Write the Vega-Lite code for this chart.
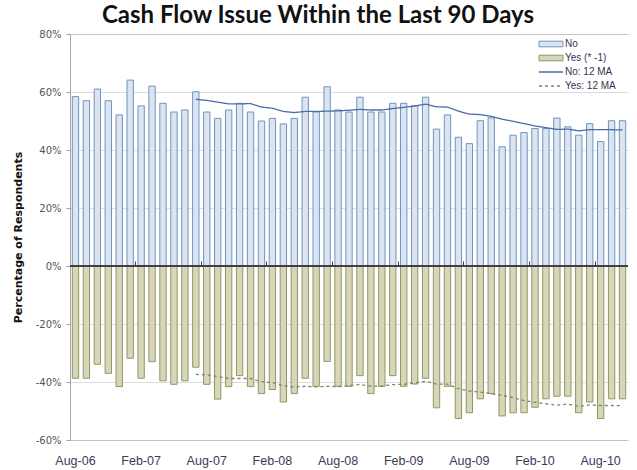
{
  "$schema": "https://vega.github.io/schema/vega-lite/v6.json",
  "width": 558,
  "height": 406,
  "autosize": {"type": "none"},
  "padding": {"left": 70, "top": 34, "right": 9, "bottom": 30},
  "background": "white",
  "config": {"view": {"stroke": null}},
  "title": {"text": "Cash Flow Issue Within the Last 90 Days", "font": "Lato", "fontSize": 24, "fontWeight": "bold", "color": "#111111", "anchor": "middle", "dx": -31, "dy": 27, "offset": 9, "baseline": "alphabetic"},
  "data": {"values": [
    {"m": "Aug-06", "no": 58.4, "yes": -38.7, "noma": null, "yesma": null},
    {"m": "Sep-06", "no": 57.0, "yes": -38.7, "noma": null, "yesma": null},
    {"m": "Oct-06", "no": 61.0, "yes": -33.9, "noma": null, "yesma": null},
    {"m": "Nov-06", "no": 57.0, "yes": -37.0, "noma": null, "yesma": null},
    {"m": "Dec-06", "no": 52.1, "yes": -41.6, "noma": null, "yesma": null},
    {"m": "Jan-07", "no": 64.1, "yes": -31.8, "noma": null, "yesma": null},
    {"m": "Feb-07", "no": 55.2, "yes": -38.7, "noma": null, "yesma": null},
    {"m": "Mar-07", "no": 62.0, "yes": -33.0, "noma": null, "yesma": null},
    {"m": "Apr-07", "no": 56.1, "yes": -39.6, "noma": null, "yesma": null},
    {"m": "May-07", "no": 53.1, "yes": -40.8, "noma": null, "yesma": null},
    {"m": "Jun-07", "no": 53.8, "yes": -39.6, "noma": null, "yesma": null},
    {"m": "Jul-07", "no": 60.1, "yes": -34.9, "noma": 57.5, "yesma": -37.4},
    {"m": "Aug-07", "no": 53.1, "yes": -40.8, "noma": 57.1, "yesma": -37.5},
    {"m": "Sep-07", "no": 50.9, "yes": -45.9, "noma": 56.5, "yesma": -38.1},
    {"m": "Oct-07", "no": 53.8, "yes": -41.6, "noma": 55.9, "yesma": -38.8},
    {"m": "Nov-07", "no": 56.1, "yes": -37.8, "noma": 55.9, "yesma": -38.8},
    {"m": "Dec-07", "no": 53.1, "yes": -41.6, "noma": 56.0, "yesma": -38.8},
    {"m": "Jan-08", "no": 50.0, "yes": -44.0, "noma": 54.8, "yesma": -39.9},
    {"m": "Feb-08", "no": 50.9, "yes": -42.6, "noma": 54.4, "yesma": -40.2},
    {"m": "Mar-08", "no": 49.0, "yes": -46.9, "noma": 53.3, "yesma": -41.3},
    {"m": "Apr-08", "no": 50.9, "yes": -44.0, "noma": 52.9, "yesma": -41.7},
    {"m": "May-08", "no": 58.2, "yes": -38.7, "noma": 53.3, "yesma": -41.5},
    {"m": "Jun-08", "no": 53.1, "yes": -41.5, "noma": 53.3, "yesma": -41.7},
    {"m": "Jul-08", "no": 61.8, "yes": -32.9, "noma": 53.4, "yesma": -41.5},
    {"m": "Aug-08", "no": 53.8, "yes": -41.5, "noma": 53.5, "yesma": -41.6},
    {"m": "Sep-08", "no": 53.1, "yes": -41.5, "noma": 53.7, "yesma": -41.2},
    {"m": "Oct-08", "no": 58.2, "yes": -37.8, "noma": 54.0, "yesma": -40.9},
    {"m": "Nov-08", "no": 53.1, "yes": -44.0, "noma": 53.8, "yesma": -41.4},
    {"m": "Dec-08", "no": 53.1, "yes": -41.5, "noma": 53.8, "yesma": -41.4},
    {"m": "Jan-09", "no": 56.1, "yes": -37.8, "noma": 54.3, "yesma": -40.9},
    {"m": "Feb-09", "no": 56.1, "yes": -41.5, "noma": 54.7, "yesma": -40.8},
    {"m": "Mar-09", "no": 55.2, "yes": -40.7, "noma": 55.2, "yesma": -40.3},
    {"m": "Apr-09", "no": 58.2, "yes": -38.7, "noma": 55.8, "yesma": -39.8},
    {"m": "May-09", "no": 47.2, "yes": -48.9, "noma": 54.9, "yesma": -40.7},
    {"m": "Jun-09", "no": 52.1, "yes": -41.5, "noma": 54.8, "yesma": -40.7},
    {"m": "Jul-09", "no": 44.4, "yes": -52.6, "noma": 53.4, "yesma": -42.3},
    {"m": "Aug-09", "no": 42.2, "yes": -50.6, "noma": 52.4, "yesma": -43.1},
    {"m": "Sep-09", "no": 50.1, "yes": -45.8, "noma": 52.2, "yesma": -43.5},
    {"m": "Oct-09", "no": 51.1, "yes": -44.0, "noma": 51.6, "yesma": -44.0},
    {"m": "Nov-09", "no": 41.1, "yes": -51.7, "noma": 50.6, "yesma": -44.6},
    {"m": "Dec-09", "no": 45.1, "yes": -50.6, "noma": 49.9, "yesma": -45.4},
    {"m": "Jan-10", "no": 46.0, "yes": -50.6, "noma": 49.1, "yesma": -46.4},
    {"m": "Feb-10", "no": 47.4, "yes": -48.7, "noma": 48.3, "yesma": -47.0},
    {"m": "Mar-10", "no": 47.4, "yes": -45.8, "noma": 47.7, "yesma": -47.5},
    {"m": "Apr-10", "no": 51.0, "yes": -44.9, "noma": 47.1, "yesma": -48.0},
    {"m": "May-10", "no": 48.0, "yes": -44.9, "noma": 47.2, "yesma": -47.6},
    {"m": "Jun-10", "no": 45.1, "yes": -50.6, "noma": 46.6, "yesma": -48.4},
    {"m": "Jul-10", "no": 49.1, "yes": -46.9, "noma": 47.0, "yesma": -47.9},
    {"m": "Aug-10", "no": 42.9, "yes": -52.6, "noma": 47.0, "yesma": -48.1},
    {"m": "Sep-10", "no": 50.1, "yes": -45.8, "noma": 47.0, "yesma": -48.1},
    {"m": "Oct-10", "no": 50.1, "yes": -45.8, "noma": 46.9, "yesma": -48.2}
  ]},
  "resolve": {"axis": {"x": "independent"}},
  "layer": [
    {
      "transform": [{"fold": ["no", "yes"], "as": ["s", "v"]}],
      "mark": {"type": "bar", "width": {"band": 0.58}, "strokeWidth": 1},
      "encoding": {
        "x": {"field": "m", "type": "ordinal", "sort": null,
          "scale": {"paddingInner": 0, "paddingOuter": 0},
          "axis": {"orient": "bottom", "values": ["Aug-06", "Feb-07", "Aug-07", "Feb-08", "Aug-08", "Feb-09", "Aug-09", "Feb-10", "Aug-10"],
            "ticks": false, "domain": false, "grid": false, "title": null, "labelAngle": 0,
            "labelFont": "Liberation Sans", "labelFontSize": 12.5, "labelColor": "#3b3b55", "labelPadding": 14}},
        "y": {"field": "v", "type": "quantitative",
          "scale": {"domain": [-60, 80], "nice": false},
          "axis": {"values": [-60, -40, -20, 0, 20, 40, 60, 80], "labelExpr": "datum.value + '%'",
            "title": "Percentage of Respondents", "titleFont": "DejaVu Sans", "titleFontSize": 11, "titleFontWeight": "bold", "titleColor": "#111111", "titlePadding": 12,
            "labelFont": "DejaVu Sans", "labelFontSize": 10, "labelColor": "#555555", "labelPadding": 5,
            "tickSize": 4, "tickColor": "#a0a0a0", "domainColor": "#a6a6a6",
            "grid": true, "gridColor": {"condition": {"test": "datum.value == -60 || datum.value == 80", "value": "#c4c4c4"}, "value": "#dcdcdc"}, "gridWidth": 1}},
        "fill": {"field": "s", "type": "nominal",
          "scale": {"domain": ["no", "yes"], "range": ["#dbe5f2", "#d9d5bb"]},
          "legend": {"orient": "none", "legendX": 476, "legendY": 5, "title": null, "padding": 0,
            "symbolType": "M-3,-0.7H3V0.7H-3Z", "symbolSize": 64, "symbolStrokeWidth": 1,
            "labelFont": "Liberation Sans", "labelFontSize": 10, "labelColor": "#3a3350", "labelOffset": 9, "rowPadding": 4,
            "labelExpr": "datum.label == 'no' ? 'No' : 'Yes (* -1)'"}},
        "stroke": {"field": "s", "type": "nominal",
          "scale": {"domain": ["no", "yes"], "range": ["#7192c0", "#8d985f"]},
          "legend": {"orient": "none", "legendX": 476, "legendY": 5, "title": null, "padding": 0,
            "symbolType": "M-3,-0.7H3V0.7H-3Z", "symbolSize": 64, "symbolStrokeWidth": 1,
            "labelFont": "Liberation Sans", "labelFontSize": 10, "labelColor": "#3a3350", "labelOffset": 9, "rowPadding": 4,
            "labelExpr": "datum.label == 'no' ? 'No' : 'Yes (* -1)'"}}
      }
    },
    {
      "mark": {"type": "rule", "color": "#404040", "strokeWidth": 2},
      "encoding": {"y": {"datum": 0}}
    },
    {
      "transform": [{"fold": ["noma", "yesma"], "as": ["s2", "v2"]}],
      "mark": {"type": "line", "strokeWidth": 1.3},
      "encoding": {
        "x": {"field": "m", "type": "ordinal", "sort": null,
          "axis": {"orient": "top", "offset": -232, "values": ["Feb-07", "Aug-07", "Feb-08", "Aug-08", "Feb-09", "Aug-09", "Feb-10", "Aug-10"],
            "bandPosition": 0, "labels": false, "domain": false, "grid": false, "title": null,
            "ticks": true, "tickSize": 5, "tickColor": "#404040", "tickWidth": 1}},
        "y": {"field": "v2", "type": "quantitative"},
        "color": {"field": "s2", "type": "nominal",
          "scale": {"domain": ["noma", "yesma"], "range": ["#4c6ca8", "#7d8462"]},
          "legend": {"orient": "none", "legendX": 476, "legendY": 33, "title": null, "padding": 0,
            "symbolType": "M-3,0H3", "symbolSize": 64, "symbolStrokeWidth": 1.3,
            "labelFont": "Liberation Sans", "labelFontSize": 10, "labelColor": "#3a3350", "labelOffset": 9, "rowPadding": 4,
            "labelExpr": "datum.label == 'noma' ? 'No:  12 MA' : 'Yes: 12 MA'"}},
        "strokeDash": {"field": "s2", "type": "nominal",
          "scale": {"domain": ["noma", "yesma"], "range": [[1, 0], [3, 3]]},
          "legend": {"orient": "none", "legendX": 476, "legendY": 33, "title": null, "padding": 0,
            "symbolType": "M-3,0H3", "symbolSize": 64, "symbolStrokeWidth": 1.3,
            "labelFont": "Liberation Sans", "labelFontSize": 10, "labelColor": "#3a3350", "labelOffset": 9, "rowPadding": 4,
            "labelExpr": "datum.label == 'noma' ? 'No:  12 MA' : 'Yes: 12 MA'"}}
      }
    }
  ]
}
